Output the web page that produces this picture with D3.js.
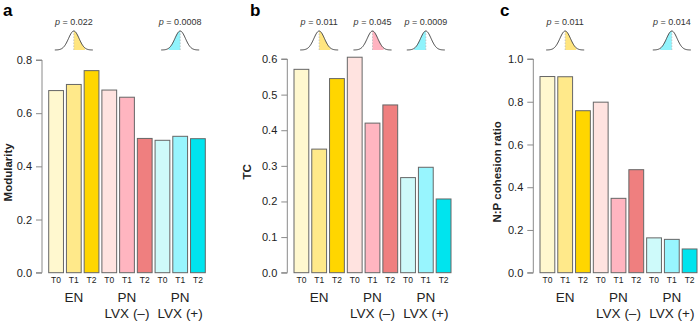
<!DOCTYPE html>
<html>
<head>
<meta charset="utf-8">
<script src="https://cdn.jsdelivr.net/npm/d3@7"></script>
<style>
  body { margin: 0; background: #fff; }
  svg { display: block; font-family: "Liberation Sans", Arial, sans-serif; }
</style>
</head>
<body>
<div id="chart"></div>
<script>
// tick / category labels
const times = ["T0", "T1", "T2"]
const groups = ["EN", "PN", "PN"]
const subGroups = ["", "LVX (–)", "LVX (+)"]

// bar fill per group/time
const colors = [
  ["#fff8cf", "#ffe98a", "#ffd600"],
  ["#ffe3e0", "#ffb5c0", "#ef7f7f"],
  ["#cefafa", "#98f5fe", "#00e4ee"]
]
const bellFill = ["#ffe57f", "#ffb3c0", "#90f3fc"]

// values, in order EN T0..T2, PN T0..T2, PN LVX(+) T0..T2
const modularity = [0.685, 0.708, 0.760, 0.687, 0.660, 0.505, 0.498, 0.513, 0.504]
const tc = [0.571, 0.347, 0.545, 0.605, 0.420, 0.471, 0.267, 0.296, 0.207]
const npRatio = [0.918, 0.917, 0.758, 0.798, 0.348, 0.482, 0.163, 0.156, 0.111]

const panels = [
  { letter: "a", x0: 0, axisX: 42, barX: [48.7, 205.3], values: modularity, yMax: 0.8, yTop: 60,
    ticks: [0, 0.2, 0.4, 0.6, 0.8], label: "Modularity", labelX: 8,
    bells: [{ g: 0, p: "0.022", side: 1 }, { g: 2, p: "0.0008", side: -1 }] },
  { letter: "b", x0: 245, axisX: 287.3, barX: [294, 451], values: tc, yMax: 0.6, yTop: 59,
    ticks: [0, 0.1, 0.2, 0.3, 0.4, 0.5, 0.6], label: "TC", labelX: 247,
    bells: [{ g: 0, p: "0.011", side: 1 }, { g: 1, p: "0.045", side: 1 }, { g: 2, p: "0.0009", side: -1 }] },
  { letter: "c", x0: 495, axisX: 533.3, barX: [540, 697], values: npRatio, yMax: 1.0, yTop: 59,
    ticks: [0, 0.2, 0.4, 0.6, 0.8, 1.0], label: "N:P cohesion ratio", labelX: 497,
    bells: [{ g: 0, p: "0.011", side: 1 }, { g: 2, p: "0.014", side: -1 }] }
]

const width = 698
const height = 321
const yBottom = 272.7

const svg = d3.select("#chart").append("svg")
  .attr("width", width)
  .attr("height", height)
  .attr("viewBox", [0, 0, width, height])

panels.forEach(p => {
  const g = svg.append("g")

  const yScale = d3.scaleLinear([0, p.yMax], [yBottom, p.yTop])
  const idx = d3.range(9)
  const xScale = d3.scaleBand(idx, p.barX).paddingInner(0.167).paddingOuter(0)

  // panel letter
  g.append("text")
    .attr("x", p.letter === "a" ? 3 : p.x0 + 5)
    .attr("y", 16)
    .attr("font-size", 17)
    .attr("font-weight", "bold")
    .text(p.letter)

  // y axis
  const yAxis = d3.axisLeft(yScale).tickValues(p.ticks).tickSize(6).tickPadding(4)
    .tickFormat(d3.format(".1f"))
  g.append("g")
    .attr("transform", `translate(${p.axisX},0)`)
    .call(yAxis)
    .call(a => a.select(".domain").attr("stroke", "#8a8a8a").attr("d", `M-6,${yBottom}H0V${p.yTop}H-6`))
    .call(a => a.selectAll(".tick line").attr("stroke", "#8a8a8a"))
    .call(a => a.selectAll(".tick text")
      .attr("font-size", 11)
      .attr("fill", "#222")
      .attr("font-family", "Liberation Sans, Arial, sans-serif"))

  // y label
  g.append("text")
    .attr("transform", `translate(${p.labelX + 4},${(yBottom + p.yTop) / 2 + 6}) rotate(-90)`)
    .attr("text-anchor", "middle")
    .attr("font-size", 11.5)
    .attr("font-weight", "bold")
    .attr("fill", "#222")
    .text(p.label)

  // bars
  g.append("g")
    .selectAll("rect")
    .data(p.values)
    .join("rect")
    .attr("x", (d, i) => xScale(i))
    .attr("y", d => yScale(d))
    .attr("width", xScale.bandwidth())
    .attr("height", d => yScale(0) - yScale(d))
    .attr("fill", (d, i) => colors[Math.floor(i / 3)][i % 3])
    .attr("stroke", "#666")
    .attr("stroke-width", 1)

  // time labels
  g.append("g")
    .selectAll("text")
    .data(idx)
    .join("text")
    .attr("x", i => xScale(i) + xScale.bandwidth() / 2)
    .attr("y", 283)
    .attr("text-anchor", "middle")
    .attr("font-size", 8.5)
    .attr("fill", "#222")
    .text(i => times[i % 3])

  // group labels
  const groupCenter = k => xScale(k * 3 + 1) + xScale.bandwidth() / 2
  g.append("g")
    .selectAll("text")
    .data(groups)
    .join("text")
    .attr("x", (d, k) => groupCenter(k))
    .attr("y", 302)
    .attr("text-anchor", "middle")
    .attr("font-size", 13.5)
    .attr("fill", "#222")
    .text(d => d)
  g.append("g")
    .selectAll("text")
    .data(subGroups)
    .join("text")
    .attr("x", (d, k) => groupCenter(k))
    .attr("y", 318)
    .attr("text-anchor", "middle")
    .attr("font-size", 13.5)
    .attr("fill", "#222")
    .text(d => d)

  // significance bells
  const sigma = 5.3
  const bx = d3.scaleLinear([-3.6, 3.6], [-19, 19])
  const by = d3.scaleLinear([0, 1], [50, 31])
  const dens = t => Math.exp(-t * t / 2)
  const pts = d3.range(-3.6, 3.61, 0.1)
  const curve = d3.line().x(t => bx(t)).y(t => by(dens(t)))
  const area = d3.area().x(t => bx(t)).y0(by(0)).y1(t => by(dens(t)))

  p.bells.forEach(b => {
    const cx = groupCenter(b.g)
    const bg = g.append("g").attr("transform", `translate(${cx},0)`)
    const shade = b.side > 0 ? pts.filter(t => t >= 0 && t <= 2.2) : pts.filter(t => t <= 0 && t >= -2.2)
    bg.append("path")
      .attr("d", area(shade))
      .attr("fill", bellFill[b.g])
    bg.append("line")
      .attr("x1", 0).attr("x2", 0)
      .attr("y1", by(0)).attr("y2", by(1))
      .attr("stroke", "#bbb")
      .attr("stroke-width", 0.8)
      .attr("stroke-dasharray", "1.5,1.5")
    bg.append("path")
      .attr("d", curve(pts))
      .attr("fill", "none")
      .attr("stroke", "#444")
      .attr("stroke-width", 1)
    const t = bg.append("text")
      .attr("x", 0)
      .attr("y", 25)
      .attr("text-anchor", "middle")
      .attr("font-size", 9)
      .attr("fill", "#333")
    t.append("tspan").attr("font-style", "italic").text("p")
    t.append("tspan").text(" = " + b.p)
  })
})
</script>
</body>
</html>
